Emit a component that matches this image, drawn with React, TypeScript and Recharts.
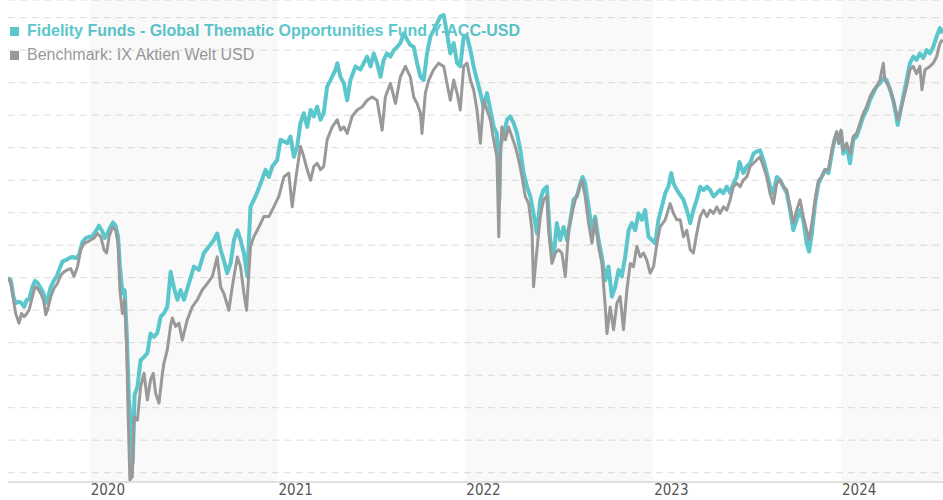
import React from "react";
import { LineChart, Line, XAxis, YAxis, CartesianGrid, ReferenceArea } from "recharts";

// Time in decimal years
const fundDates = [
  2019.565, 2019.58, 2019.594, 2019.606, 2019.624, 2019.637, 2019.651, 2019.665, 2019.677, 2019.695,
  2019.709, 2019.722, 2019.739, 2019.754, 2019.766, 2019.775, 2019.793, 2019.81, 2019.824, 2019.837,
  2019.855, 2019.872, 2019.89, 2019.908, 2019.926, 2019.943, 2019.961, 2019.979, 2019.996, 2020.014,
  2020.032, 2020.049, 2020.068, 2020.08, 2020.094, 2020.106, 2020.124, 2020.138, 2020.151, 2020.161,
  2020.174, 2020.186, 2020.197, 2020.209, 2020.222, 2020.229, 2020.239, 2020.254, 2020.271, 2020.289,
  2020.307, 2020.324, 2020.342, 2020.36, 2020.378, 2020.395, 2020.413, 2020.431, 2020.449, 2020.467,
  2020.484, 2020.502, 2020.528, 2020.555, 2020.581, 2020.608, 2020.635, 2020.661, 2020.679, 2020.697,
  2020.714, 2020.732, 2020.75, 2020.768, 2020.786, 2020.803, 2020.821, 2020.839, 2020.856, 2020.883,
  2020.91, 2020.936, 2020.954, 2020.972, 2020.998, 2021.016, 2021.052, 2021.069, 2021.087, 2021.105,
  2021.122, 2021.14, 2021.158, 2021.176, 2021.193, 2021.211, 2021.229, 2021.246, 2021.264, 2021.282,
  2021.309, 2021.318, 2021.335, 2021.353, 2021.371, 2021.388, 2021.415, 2021.441, 2021.459, 2021.477,
  2021.495, 2021.512, 2021.53, 2021.548, 2021.565, 2021.583, 2021.601, 2021.619, 2021.637, 2021.654,
  2021.672, 2021.69, 2021.707, 2021.725, 2021.743, 2021.761, 2021.778, 2021.796, 2021.814, 2021.84,
  2021.867, 2021.885, 2021.902, 2021.92, 2021.938, 2021.956, 2021.973, 2021.991, 2022.009, 2022.027,
  2022.044, 2022.062, 2022.08, 2022.097, 2022.115, 2022.133, 2022.151, 2022.168, 2022.181, 2022.186,
  2022.204, 2022.222, 2022.239, 2022.257, 2022.275, 2022.293, 2022.31, 2022.328, 2022.346, 2022.363,
  2022.381, 2022.399, 2022.416, 2022.434, 2022.452, 2022.47, 2022.487, 2022.505, 2022.523, 2022.541,
  2022.559, 2022.576, 2022.594, 2022.612, 2022.624, 2022.638, 2022.656, 2022.674, 2022.691, 2022.709,
  2022.727, 2022.745, 2022.762, 2022.78, 2022.798, 2022.816, 2022.833, 2022.851, 2022.869, 2022.887,
  2022.904, 2022.922, 2022.94, 2022.957, 2022.975, 2022.993, 2023.011, 2023.028, 2023.046, 2023.064,
  2023.081, 2023.096, 2023.108, 2023.126, 2023.144, 2023.161, 2023.179, 2023.197, 2023.214, 2023.232,
  2023.25, 2023.268, 2023.286, 2023.303, 2023.321, 2023.339, 2023.356, 2023.374, 2023.392, 2023.41,
  2023.427, 2023.445, 2023.459, 2023.48, 2023.498, 2023.516, 2023.534, 2023.551, 2023.569, 2023.587,
  2023.605, 2023.622, 2023.64, 2023.658, 2023.676, 2023.693, 2023.711, 2023.729, 2023.746, 2023.764,
  2023.782, 2023.799, 2023.817, 2023.83, 2023.845, 2023.862, 2023.88, 2023.897, 2023.915, 2023.933,
  2023.951, 2023.965, 2023.977, 2023.989, 2024.0, 2024.012, 2024.03, 2024.048, 2024.065, 2024.083,
  2024.101, 2024.119, 2024.136, 2024.154, 2024.172, 2024.189, 2024.207, 2024.225, 2024.243, 2024.261,
  2024.278, 2024.291, 2024.302, 2024.314, 2024.331, 2024.349, 2024.367, 2024.385, 2024.402, 2024.42,
  2024.438, 2024.456, 2024.473, 2024.491, 2024.509, 2024.527, 2024.541,
];

const fundValues = [
  100.0, 99.6, 97.1, 96.1, 96.3, 96.1, 95.5, 96.6, 96.6, 98.6,
  99.5, 99.2, 98.4, 97.6, 96.1, 96.6, 98.6, 99.6, 100.2, 101.2,
  102.5, 102.7, 103.0, 103.2, 103.0, 103.5, 105.5, 106.1, 106.3, 106.4,
  107.1, 108.0, 107.1, 106.1, 106.8, 107.6, 108.5, 108.0, 106.3, 101.7,
  97.6, 98.1, 91.5, 81.2, 77.1, 71.6, 82.0, 83.2, 87.3, 87.8,
  88.4, 91.4, 90.9, 91.5, 94.0, 94.5, 95.5, 100.9, 98.4, 96.6,
  98.1, 96.6, 99.1, 101.7, 101.2, 103.8, 104.8, 105.8, 106.8, 104.3,
  102.7, 100.7, 102.2, 105.8, 107.3, 105.8, 103.8, 100.2, 110.9, 112.5,
  114.5, 116.6, 115.5, 117.1, 118.1, 121.2, 120.7, 121.7, 118.6, 120.2,
  123.8, 125.3, 123.2, 125.8, 124.8, 126.3, 124.3, 125.3, 129.4, 130.4,
  132.0, 133.0, 130.9, 129.9, 127.3, 130.4, 132.5, 132.0, 133.0, 134.0,
  132.5, 134.5, 133.0, 130.9, 133.5, 134.5, 134.0, 135.0, 135.5, 136.1,
  137.6, 136.6, 135.8, 135.5, 133.0, 130.9, 130.4, 134.5, 137.1, 138.6,
  140.2, 140.4, 137.6, 134.5, 136.1, 133.0, 132.5, 137.1, 137.1, 135.0,
  132.5, 130.4, 128.4, 126.3, 128.4, 125.8, 123.2, 122.2, 112.0, 120.2,
  122.2, 124.3, 124.8, 123.8, 122.2, 119.6, 116.1, 114.0, 112.5, 109.9,
  106.8, 112.0, 113.5, 114.0, 105.8, 103.2, 108.4, 105.8, 107.8, 105.8,
  108.9, 112.0, 112.5, 114.5, 115.5, 114.5, 110.9, 107.3, 109.4, 105.8,
  103.2, 99.6, 101.7, 97.1, 98.6, 101.2, 100.2, 103.2, 107.3, 108.4,
  107.3, 109.9, 108.9, 110.4, 106.3, 105.8, 105.3, 108.9, 110.9, 113.0,
  114.0, 116.1, 114.5, 113.5, 112.7, 112.0, 110.4, 108.4, 110.4, 112.0,
  114.0, 113.5, 114.0, 113.5, 112.5, 113.0, 113.5, 113.0, 114.0, 113.0,
  114.5, 115.5, 117.8, 116.1, 117.1, 117.6, 119.1, 119.4, 119.6, 118.1,
  116.1, 114.0, 113.0, 115.5, 115.0, 114.0, 113.0, 110.4, 107.3, 108.9,
  110.4, 108.9, 105.3, 104.0, 106.8, 111.4, 114.5, 115.5, 116.6, 116.1,
  119.1, 121.2, 122.2, 120.7, 122.5, 119.1, 120.2, 117.6, 121.2, 121.7,
  123.2, 124.8, 125.8, 127.3, 128.4, 129.4, 129.9, 130.7, 130.4, 128.9,
  127.3, 125.3, 123.5, 125.3, 127.8, 130.4, 133.0, 134.0, 133.5, 134.5,
  133.8, 135.0, 134.5, 135.5, 137.1, 138.4, 137.6,
];

const benchDates = [
  2019.565, 2019.58, 2019.594, 2019.606, 2019.624, 2019.637, 2019.651, 2019.665, 2019.677, 2019.695,
  2019.709, 2019.722, 2019.739, 2019.754, 2019.766, 2019.775, 2019.793, 2019.81, 2019.828, 2019.846,
  2019.863, 2019.881, 2019.899, 2019.916, 2019.935, 2019.952, 2019.97, 2019.988, 2020.005, 2020.023,
  2020.041, 2020.059, 2020.076, 2020.09, 2020.103, 2020.121, 2020.138, 2020.151, 2020.161, 2020.174,
  2020.186, 2020.197, 2020.204, 2020.214, 2020.227, 2020.236, 2020.254, 2020.271, 2020.289, 2020.307,
  2020.324, 2020.338, 2020.351, 2020.369, 2020.387, 2020.395, 2020.413, 2020.431, 2020.44, 2020.457,
  2020.475, 2020.493, 2020.519, 2020.546, 2020.573, 2020.599, 2020.626, 2020.653, 2020.679, 2020.697,
  2020.714, 2020.741, 2020.759, 2020.786, 2020.803, 2020.821, 2020.835, 2020.856, 2020.874, 2020.901,
  2020.927, 2020.954, 2020.98, 2021.007, 2021.034, 2021.06, 2021.078, 2021.096, 2021.122, 2021.14,
  2021.158, 2021.176, 2021.193, 2021.211, 2021.229, 2021.246, 2021.264, 2021.291, 2021.318, 2021.335,
  2021.353, 2021.371, 2021.397, 2021.424, 2021.451, 2021.477, 2021.504, 2021.53, 2021.557, 2021.574,
  2021.601, 2021.628, 2021.654, 2021.681, 2021.707, 2021.725, 2021.743, 2021.761, 2021.769, 2021.787,
  2021.805, 2021.831, 2021.858, 2021.885, 2021.902, 2021.92, 2021.938, 2021.956, 2021.973, 2021.991,
  2022.009, 2022.027, 2022.044, 2022.062, 2022.08, 2022.097, 2022.115, 2022.133, 2022.151, 2022.168,
  2022.178, 2022.186, 2022.194, 2022.213, 2022.23, 2022.248, 2022.266, 2022.284, 2022.302, 2022.319,
  2022.337, 2022.355, 2022.363, 2022.381, 2022.399, 2022.416, 2022.434, 2022.443, 2022.461, 2022.479,
  2022.496, 2022.514, 2022.532, 2022.55, 2022.568, 2022.585, 2022.603, 2022.621, 2022.638, 2022.656,
  2022.674, 2022.691, 2022.709, 2022.727, 2022.745, 2022.754, 2022.771, 2022.789, 2022.807, 2022.824,
  2022.842, 2022.86, 2022.878, 2022.895, 2022.913, 2022.931, 2022.949, 2022.966, 2022.984, 2023.002,
  2023.02, 2023.037, 2023.064, 2023.09, 2023.108, 2023.126, 2023.144, 2023.161, 2023.179, 2023.197,
  2023.214, 2023.232, 2023.25, 2023.268, 2023.286, 2023.303, 2023.321, 2023.339, 2023.356, 2023.374,
  2023.392, 2023.41, 2023.427, 2023.445, 2023.463, 2023.48, 2023.498, 2023.516, 2023.534, 2023.551,
  2023.569, 2023.587, 2023.605, 2023.622, 2023.64, 2023.658, 2023.676, 2023.693, 2023.711, 2023.729,
  2023.746, 2023.764, 2023.782, 2023.799, 2023.817, 2023.83, 2023.845, 2023.862, 2023.88, 2023.897,
  2023.915, 2023.933, 2023.951, 2023.965, 2023.977, 2023.989, 2024.0, 2024.012, 2024.03, 2024.048,
  2024.065, 2024.083, 2024.101, 2024.119, 2024.136, 2024.154, 2024.172, 2024.189, 2024.207, 2024.225,
  2024.234, 2024.261, 2024.278, 2024.291, 2024.302, 2024.314, 2024.331, 2024.349, 2024.367, 2024.385,
  2024.402, 2024.42, 2024.431, 2024.447, 2024.473, 2024.491, 2024.509, 2024.527, 2024.541,
];

const benchValues = [
  100.0, 99.1, 96.6, 94.5, 93.0, 94.5, 94.0, 94.5, 95.0, 97.1,
  98.6, 98.4, 97.6, 96.6, 94.3, 95.0, 97.1, 98.4, 99.1, 100.4,
  100.9, 101.2, 101.4, 100.2, 101.7, 104.3, 105.3, 105.5, 105.8, 106.1,
  106.8, 106.3, 104.3, 103.8, 106.3, 107.8, 107.3, 105.3, 98.1, 94.5,
  96.6, 88.9, 79.6, 68.9, 69.4, 78.6, 78.1, 83.2, 85.3, 81.2,
  84.3, 85.3, 82.2, 80.7, 85.3, 86.8, 88.9, 92.7, 93.8, 92.5,
  93.0, 90.4, 93.5, 95.5, 96.6, 98.1, 99.1, 100.2, 103.2, 98.6,
  97.6, 95.0, 98.6, 103.2, 101.7, 97.6, 95.0, 104.8, 106.3, 107.8,
  109.4, 109.4, 110.9, 112.5, 115.5, 116.1, 110.9, 115.0, 120.2, 118.6,
  116.6, 115.0, 117.1, 117.6, 116.6, 117.1, 121.2, 123.2, 124.3, 122.7,
  123.2, 122.2, 124.8, 125.8, 126.3, 127.3, 127.8, 127.3, 122.7, 127.8,
  129.9, 126.8, 130.9, 132.5, 130.9, 127.8, 126.8, 125.3, 122.2, 128.4,
  130.4, 132.0, 133.0, 132.5, 129.9, 127.3, 130.4, 128.4, 125.8, 132.5,
  133.0, 130.4, 128.9, 125.8, 120.7, 127.3, 125.8, 124.3, 121.2, 118.6,
  106.3, 118.1, 123.2, 121.2, 123.2, 121.7, 120.2, 118.1, 115.5, 112.5,
  111.4, 107.3, 98.6, 104.3, 109.4, 112.0, 112.5, 107.3, 102.2, 103.8,
  104.3, 103.8, 100.2, 107.3, 109.9, 112.0, 113.5, 115.0, 112.5, 108.4,
  105.3, 108.9, 104.8, 102.2, 95.5, 91.4, 95.5, 92.0, 96.1, 97.1,
  92.0, 98.1, 102.2, 101.7, 104.8, 103.2, 103.8, 102.7, 100.7, 101.7,
  105.3, 107.8, 108.9, 111.4, 109.9, 108.9, 108.9, 106.3, 107.3, 104.3,
  103.8, 106.8, 109.4, 110.4, 109.4, 110.4, 109.9, 110.9, 109.9, 110.9,
  110.4, 112.0, 114.0, 114.5, 114.0, 115.0, 115.5, 117.1, 117.6, 118.1,
  118.6, 117.1, 115.5, 113.0, 111.4, 114.5, 115.0, 114.0, 113.5, 110.9,
  108.4, 110.4, 112.0, 109.4, 107.3, 105.8, 108.4, 112.0, 115.0, 115.5,
  116.6, 116.6, 119.6, 121.2, 122.5, 120.7, 122.7, 119.6, 120.7, 119.1,
  121.7, 122.2, 123.8, 125.3, 126.3, 127.8, 128.8, 129.4, 130.4, 133.0,
  130.4, 129.2, 127.3, 125.8, 124.3, 125.3, 127.3, 129.4, 132.0, 132.5,
  131.4, 132.5, 128.9, 132.0, 132.5, 133.0, 134.0, 136.1, 136.6,
];

const yearTicks = [2020, 2021, 2022, 2023, 2024];
const shadedYears = [
  [2020, 2021],
  [2022, 2023],
  [2024, 2024.543],
];
const valueTicks = [70, 75, 80, 85, 90, 95, 100, 105, 110, 115, 120, 125, 130, 135, 140];

const fundName = "Fidelity Funds - Global Thematic Opportunities Fund Y-ACC-USD";
const benchName = "Benchmark: IX Aktien Welt USD";

const TEAL = "#5bc7cc";
const GRAY = "#999999";

const fundData = fundDates.map((t, i) => ({ t, v: fundValues[i] }));
const benchData = benchDates.map((t, i) => ({ t, v: benchValues[i] }));

const YearTick = (props: any) => {
  const { x, y, payload } = props;
  return (
    <text x={x + 1} y={y} dy={11} textAnchor="start" fontSize={15} fill="#555" fontFamily="'DejaVu Sans Condensed', 'DejaVu Sans', sans-serif">
      {payload.value}
    </text>
  );
};

export default function App() {
  return (
    <div style={{ position: "absolute", left: 0, top: 0, width: 943, height: 500 }}>
      <div
        style={{
          position: "absolute",
          left: 10,
          top: 19,
          fontFamily: "'Liberation Sans', Arial, sans-serif",
          fontSize: 16,
          lineHeight: "24px",
          whiteSpace: "nowrap",
        }}
      >
        <div style={{ color: TEAL, fontWeight: "bold", display: "flex", alignItems: "center" }}>
          <span style={{ display: "inline-block", width: 9, height: 9, background: TEAL, marginRight: 8 }} />
          {fundName}
        </div>
        <div style={{ color: GRAY, display: "flex", alignItems: "center" }}>
          <span style={{ display: "inline-block", width: 9, height: 9, background: GRAY, marginRight: 8 }} />
          {benchName}
        </div>
      </div>
      <div style={{ position: "absolute", left: 0, top: 0 }}>
        <LineChart width={943} height={500} margin={{ top: 0, right: 0, bottom: 0, left: 8 }}>
          {shadedYears.map(([a, b]) => (
            <ReferenceArea key={a} x1={a} x2={b} fill="#000" fillOpacity={0.022} stroke="none" ifOverflow="visible" />
          ))}
          <CartesianGrid vertical={false} stroke="#dcdcdc" strokeDasharray="7 5" />
          <XAxis
            type="number"
            dataKey="t"
            domain={[2019.565, 2024.543]}
            ticks={yearTicks}
            allowDataOverflow
            height={18}
            tickLine={false}
            tickSize={0}
            tick={<YearTick />}
            axisLine={{ stroke: "#e0e0e0", strokeWidth: 2 }}
          />
          <YAxis type="number" domain={[68.57, 142.72]} ticks={valueTicks} hide allowDataOverflow />
          <Line data={fundData} dataKey="v" type="linear" stroke={TEAL} strokeWidth={4} dot={false} isAnimationActive={false} strokeLinejoin="round" />
          <Line data={benchData} dataKey="v" type="linear" stroke={GRAY} strokeWidth={3} dot={false} isAnimationActive={false} strokeLinejoin="round" />
        </LineChart>
      </div>
    </div>
  );
}
